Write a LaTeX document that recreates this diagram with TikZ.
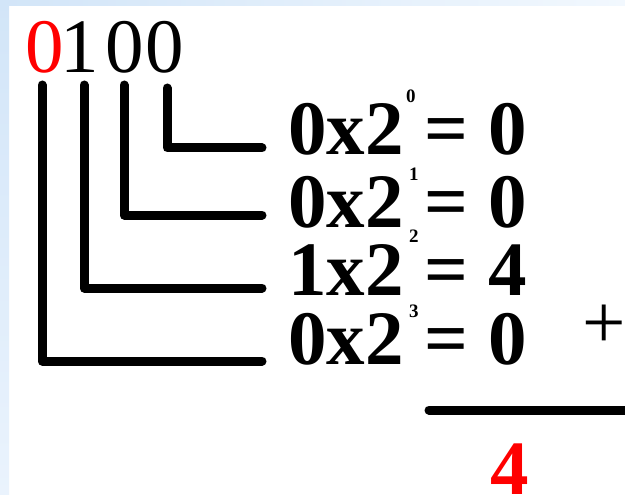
\documentclass[tikz,border=0pt]{standalone}
\usepackage{fontspec}
\setmainfont{Liberation Serif}
\definecolor{bgblueA}{HTML}{D2E5F8}
\definecolor{bgblueB}{HTML}{EAF3FD}
\definecolor{bgblueC}{HTML}{F2F8FE}
\definecolor{digred}{HTML}{FF0000}
\begin{document}
\begin{tikzpicture}[x=1pt,y=-1pt,
  big/.style={inner sep=0pt,anchor=base west,text height=52pt,text depth=0pt,font=\fontsize{77}{77}\selectfont},
  bigb/.style={inner sep=0pt,anchor=base west,text height=52pt,text depth=0pt,font=\fontsize{77}{77}\selectfont\bfseries},
  sup/.style={inner sep=0pt,anchor=base west,text height=13pt,text depth=0pt,font=\fontsize{19}{19}\selectfont\bfseries},
  wire/.style={line width=9pt,line cap=round,line join=round}]
\useasboundingbox (0,0) rectangle (625,495);
\fill[white] (0,0) rectangle (625,495);
\shade[top color=bgblueA,bottom color=bgblueB] (0,0) rectangle (9,495);
\shade[left color=bgblueA,right color=bgblueC] (0,0) rectangle (625,6);
% binary number digits
\node[big,text=digred] (d3) at (25,73) {0};
\node[big] (d2) at (60,73) {1};
\node[big] (d1) at (105,73) {0};
\node[big] (d0) at (145,73) {0};
% rows
\node[bigb] (r0) at (288,155) {0x2};
\node[sup] (s0) at (406,103) {0};
\node[bigb] (q0) at (424,155) {=};
\node[bigb] (v0) at (488,155) {0};
\node[bigb] (r1) at (288,227) {0x2};
\node[sup] (s1) at (409,180) {1};
\node[bigb] (q1) at (424,227) {=};
\node[bigb] (v1) at (488,227) {0};
\node[bigb] (r2) at (288,295) {1x2};
\node[sup] (s2) at (409,243) {2};
\node[bigb] (q2) at (424,295) {=};
\node[bigb] (v2) at (488,295) {4};
\node[bigb] (r3) at (288,364) {0x2};
\node[sup] (s3) at (409,317) {3};
\node[bigb] (q3) at (424,364) {=};
\node[bigb] (v3) at (488,364) {0};
\node[big,text height=38pt] (plus) at (582,348) {+};
\node[bigb,text=digred] (sum) at (490,494) {4};
% connector coordinates
\coordinate (t3) at (42,85);  \coordinate (c3) at (42,361);  \coordinate (h3) at (262,361);
\coordinate (t2) at (84,85);  \coordinate (c2) at (84,288);  \coordinate (h2) at (262,288);
\coordinate (t1) at (124,85); \coordinate (c1) at (124,215); \coordinate (h1) at (262,215);
\coordinate (t0) at (167,88); \coordinate (c0) at (167,148); \coordinate (h0) at (262,148);
\coordinate (ls) at (429,410); \coordinate (le) at (640,410);
\draw[wire] (t3) -- (c3) -- (h3);
\draw[wire] (t2) -- (c2) -- (h2);
\draw[wire] (t1) -- (c1) -- (h1);
\draw[wire] (t0) -- (c0) -- (h0);
\draw[wire] (ls) -- (le);
\end{tikzpicture}
\end{document}
